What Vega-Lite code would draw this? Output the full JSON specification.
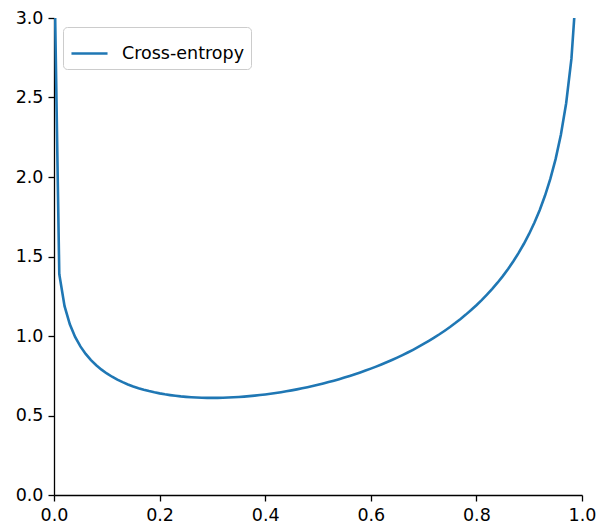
{
  "$schema": "https://vega.github.io/schema/vega-lite/v6.json",
  "autosize": {"type": "none"},
  "width": 528,
  "height": 477,
  "padding": {"left": 54, "top": 18, "right": 18, "bottom": 32},
  "config": {
    "view": {"stroke": null},
    "font": "DejaVu Sans",
    "axis": {
      "grid": false,
      "domainColor": "#000000",
      "domainWidth": 1.3,
      "tickColor": "#000000",
      "tickWidth": 1.3,
      "tickSize": 6,
      "labelColor": "#000000",
      "labelFont": "DejaVu Sans",
      "labelFontSize": 17.5,
      "labelPadding": 5,
      "labelFlush": false,
      "labelOverlap": false,
      "title": null
    },
    "legend": {
      "orient": "top-left",
      "offset": 9,
      "padding": 7,
      "strokeColor": "#cccccc",
      "fillColor": "#ffffff",
      "cornerRadius": 4,
      "labelFont": "DejaVu Sans",
      "labelFontSize": 17.5,
      "labelColor": "#000000",
      "labelOffset": 13,
      "symbolType": "stroke",
      "symbolSize": 1300,
      "symbolStrokeWidth": 2.6,
      "title": null
    }
  },
  "data": {
    "values": [
      {"x": 0.00001, "y": 3.454, "series": "Cross-entropy"},
      {"x": 0.01, "y": 1.3886, "series": "Cross-entropy"},
      {"x": 0.02, "y": 1.1877, "series": "Cross-entropy"},
      {"x": 0.03, "y": 1.0733, "series": "Cross-entropy"},
      {"x": 0.04, "y": 0.9942, "series": "Cross-entropy"},
      {"x": 0.05, "y": 0.9346, "series": "Cross-entropy"},
      {"x": 0.06, "y": 0.8873, "series": "Cross-entropy"},
      {"x": 0.07, "y": 0.8486, "series": "Cross-entropy"},
      {"x": 0.08, "y": 0.8161, "series": "Cross-entropy"},
      {"x": 0.09, "y": 0.7884, "series": "Cross-entropy"},
      {"x": 0.10, "y": 0.7645, "series": "Cross-entropy"},
      {"x": 0.11, "y": 0.7438, "series": "Cross-entropy"},
      {"x": 0.12, "y": 0.7256, "series": "Cross-entropy"},
      {"x": 0.13, "y": 0.7095, "series": "Cross-entropy"},
      {"x": 0.14, "y": 0.6954, "series": "Cross-entropy"},
      {"x": 0.15, "y": 0.6829, "series": "Cross-entropy"},
      {"x": 0.16, "y": 0.6718, "series": "Cross-entropy"},
      {"x": 0.17, "y": 0.6620, "series": "Cross-entropy"},
      {"x": 0.18, "y": 0.6534, "series": "Cross-entropy"},
      {"x": 0.19, "y": 0.6457, "series": "Cross-entropy"},
      {"x": 0.20, "y": 0.6390, "series": "Cross-entropy"},
      {"x": 0.21, "y": 0.6332, "series": "Cross-entropy"},
      {"x": 0.22, "y": 0.6282, "series": "Cross-entropy"},
      {"x": 0.23, "y": 0.6239, "series": "Cross-entropy"},
      {"x": 0.24, "y": 0.6202, "series": "Cross-entropy"},
      {"x": 0.25, "y": 0.6173, "series": "Cross-entropy"},
      {"x": 0.26, "y": 0.6149, "series": "Cross-entropy"},
      {"x": 0.27, "y": 0.6131, "series": "Cross-entropy"},
      {"x": 0.28, "y": 0.6118, "series": "Cross-entropy"},
      {"x": 0.29, "y": 0.6111, "series": "Cross-entropy"},
      {"x": 0.30, "y": 0.6109, "series": "Cross-entropy"},
      {"x": 0.31, "y": 0.6111, "series": "Cross-entropy"},
      {"x": 0.32, "y": 0.6118, "series": "Cross-entropy"},
      {"x": 0.33, "y": 0.6129, "series": "Cross-entropy"},
      {"x": 0.34, "y": 0.6145, "series": "Cross-entropy"},
      {"x": 0.35, "y": 0.6165, "series": "Cross-entropy"},
      {"x": 0.36, "y": 0.6189, "series": "Cross-entropy"},
      {"x": 0.37, "y": 0.6217, "series": "Cross-entropy"},
      {"x": 0.38, "y": 0.6249, "series": "Cross-entropy"},
      {"x": 0.39, "y": 0.6285, "series": "Cross-entropy"},
      {"x": 0.40, "y": 0.6325, "series": "Cross-entropy"},
      {"x": 0.41, "y": 0.6368, "series": "Cross-entropy"},
      {"x": 0.42, "y": 0.6416, "series": "Cross-entropy"},
      {"x": 0.43, "y": 0.6467, "series": "Cross-entropy"},
      {"x": 0.44, "y": 0.6522, "series": "Cross-entropy"},
      {"x": 0.45, "y": 0.6580, "series": "Cross-entropy"},
      {"x": 0.46, "y": 0.6643, "series": "Cross-entropy"},
      {"x": 0.47, "y": 0.6709, "series": "Cross-entropy"},
      {"x": 0.48, "y": 0.6779, "series": "Cross-entropy"},
      {"x": 0.49, "y": 0.6853, "series": "Cross-entropy"},
      {"x": 0.50, "y": 0.6931, "series": "Cross-entropy"},
      {"x": 0.51, "y": 0.7014, "series": "Cross-entropy"},
      {"x": 0.52, "y": 0.7100, "series": "Cross-entropy"},
      {"x": 0.53, "y": 0.7190, "series": "Cross-entropy"},
      {"x": 0.54, "y": 0.7284, "series": "Cross-entropy"},
      {"x": 0.55, "y": 0.7383, "series": "Cross-entropy"},
      {"x": 0.56, "y": 0.7486, "series": "Cross-entropy"},
      {"x": 0.57, "y": 0.7594, "series": "Cross-entropy"},
      {"x": 0.58, "y": 0.7707, "series": "Cross-entropy"},
      {"x": 0.59, "y": 0.7824, "series": "Cross-entropy"},
      {"x": 0.60, "y": 0.7947, "series": "Cross-entropy"},
      {"x": 0.61, "y": 0.8074, "series": "Cross-entropy"},
      {"x": 0.62, "y": 0.8207, "series": "Cross-entropy"},
      {"x": 0.63, "y": 0.8346, "series": "Cross-entropy"},
      {"x": 0.64, "y": 0.8490, "series": "Cross-entropy"},
      {"x": 0.65, "y": 0.8641, "series": "Cross-entropy"},
      {"x": 0.66, "y": 0.8798, "series": "Cross-entropy"},
      {"x": 0.67, "y": 0.8962, "series": "Cross-entropy"},
      {"x": 0.68, "y": 0.9133, "series": "Cross-entropy"},
      {"x": 0.69, "y": 0.9311, "series": "Cross-entropy"},
      {"x": 0.70, "y": 0.9498, "series": "Cross-entropy"},
      {"x": 0.71, "y": 0.9693, "series": "Cross-entropy"},
      {"x": 0.72, "y": 0.9896, "series": "Cross-entropy"},
      {"x": 0.73, "y": 1.0109, "series": "Cross-entropy"},
      {"x": 0.74, "y": 1.0333, "series": "Cross-entropy"},
      {"x": 0.75, "y": 1.0567, "series": "Cross-entropy"},
      {"x": 0.76, "y": 1.0813, "series": "Cross-entropy"},
      {"x": 0.77, "y": 1.1072, "series": "Cross-entropy"},
      {"x": 0.78, "y": 1.1344, "series": "Cross-entropy"},
      {"x": 0.79, "y": 1.1632, "series": "Cross-entropy"},
      {"x": 0.80, "y": 1.1936, "series": "Cross-entropy"},
      {"x": 0.81, "y": 1.2257, "series": "Cross-entropy"},
      {"x": 0.82, "y": 1.2599, "series": "Cross-entropy"},
      {"x": 0.83, "y": 1.2963, "series": "Cross-entropy"},
      {"x": 0.84, "y": 1.3351, "series": "Cross-entropy"},
      {"x": 0.85, "y": 1.3767, "series": "Cross-entropy"},
      {"x": 0.86, "y": 1.4215, "series": "Cross-entropy"},
      {"x": 0.87, "y": 1.4699, "series": "Cross-entropy"},
      {"x": 0.88, "y": 1.5225, "series": "Cross-entropy"},
      {"x": 0.89, "y": 1.5801, "series": "Cross-entropy"},
      {"x": 0.90, "y": 1.6434, "series": "Cross-entropy"},
      {"x": 0.91, "y": 1.7139, "series": "Cross-entropy"},
      {"x": 0.92, "y": 1.7930, "series": "Cross-entropy"},
      {"x": 0.93, "y": 1.8833, "series": "Cross-entropy"},
      {"x": 0.94, "y": 1.9880, "series": "Cross-entropy"},
      {"x": 0.95, "y": 2.1124, "series": "Cross-entropy"},
      {"x": 0.96, "y": 2.2655, "series": "Cross-entropy"},
      {"x": 0.97, "y": 2.4637, "series": "Cross-entropy"},
      {"x": 0.98, "y": 2.7445, "series": "Cross-entropy"},
      {"x": 0.99, "y": 3.2266, "series": "Cross-entropy"}
    ]
  },
  "mark": {"type": "line", "clip": true, "strokeWidth": 2.6},
  "encoding": {
    "x": {
      "field": "x",
      "type": "quantitative",
      "scale": {"domain": [0, 1], "nice": false},
      "axis": {"values": [0, 0.2, 0.4, 0.6, 0.8, 1.0], "format": ".1f"}
    },
    "y": {
      "field": "y",
      "type": "quantitative",
      "scale": {"domain": [0, 3], "nice": false},
      "axis": {"values": [0, 0.5, 1.0, 1.5, 2.0, 2.5, 3.0], "format": ".1f"}
    },
    "color": {
      "field": "series",
      "type": "nominal",
      "scale": {"range": ["#1f77b4"]},
      "legend": {"title": null}
    }
  }
}
